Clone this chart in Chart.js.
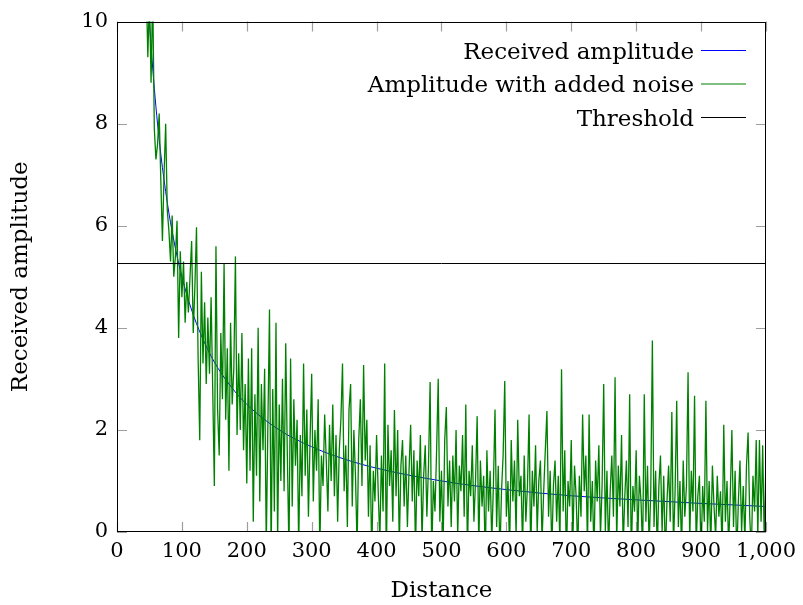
<!DOCTYPE html>
<html>
<head>
<meta charset="utf-8">
<script src="https://cdn.jsdelivr.net/npm/chart.js@4"></script>
<style>
  html, body { margin: 0; padding: 0; background: #fff; }
  #wrap { width: 803px; height: 605px; }
</style>
</head>
<body>
<div id="wrap"><canvas id="chart" width="803" height="605"></canvas></div>
<script>
// ─── DATA ─────────────────────────────────────────────────────────────────────

const xTicks = [0, 100, 200, 300, 400, 500, 600, 700, 800, 900, 1000];
const yTicks = [0, 2, 4, 6, 8, 10];

// received amplitude (smooth curve)
const ampDist = [45, 50, 55, 60, 65, 70, 80, 90, 100, 115, 130, 150, 175, 200, 250, 300, 350, 400, 500, 600, 700, 800, 900, 1000];
const ampValues = [11.1, 10, 9.09, 8.33, 7.69, 7.14, 6.25, 5.56, 5.0, 4.35, 3.85, 3.33, 2.86, 2.5, 2.0, 1.67, 1.43, 1.25, 1.0, 0.83, 0.71, 0.63, 0.56, 0.5];

// amplitude with added noise, sampled every 2.5 from distance 45
const noiseStart = 45;
const noiseStep = 2.5;
const noiseValues = [
  10.8, 9.3, 10.5, 8.8, 10.6, 7.9, 7.3, 7.6, 8.2, 6.9, 5.7, 7.0, 8.0, 6.3, 5.9, 5.3, 6.2, 5.0, 5.4, 6.1, 3.8,
  5.5, 4.6, 5.3, 4.1, 4.9, 4.3, 5.0, 5.7, 3.9, 4.8, 5.97, 3.4, 1.8, 5.1, 3.3, 4.5, 2.9, 4.2, 3.1, 4.6, 2.8,
  0.9, 5.6, 2.4, 1.5, 3.9, 2.6, 5.26, 2.2, 3.6, 1.2, 4.1, 2.5, 3.2, 5.4, 1.9, 3.5, 2.0, 3.9, 1.6, 2.9, 0.95,
  3.4, 1.2, 3.6, 0.2, 2.7, 1.1, 4.0, 0.6, 2.9, 1.6, 3.2, -0.3, 2.1, 4.36, -0.5, 2.8, 0.4, 4.1, -0.2, 2.5, 1.0,
  3.0, 0.8, 3.7, 1.5, -0.4, 3.4, 0.5, 2.6, 1.3, 2.2, -0.3, 1.9, 0.7, 3.3, 1.1, 2.4, 0.3, 1.8, 3.1, 0.6, 2.0,
  1.2, 2.6, -0.4, 1.5, 0.9, 2.3, 1.4, 0.4, 2.1, 1.0, 2.5, 0.7, 1.9, 0.2, 1.6, 2.2, 3.3, 0.8, 1.7, 0.1, 2.4,
  2.9, 0.5, 2.0, 1.1, -0.3, 1.8, 2.6, 0.9, 3.27, 1.4, 2.2, 0.3, 1.7, -0.5, 1.2, 0.6, 1.9, 0.8, -0.2, 1.5, 0.4,
  3.3, -0.6, 2.1, 0.9, 1.6, 0.2, 2.39, 0.7, 2.0, -0.3, 1.3, 1.8, 0.5, 1.5, 0.1, 1.2, 2.1, 0.6, 1.6, -0.4, 1.4,
  0.7, 1.9, -0.2, 1.1, 1.7, 0.3, 1.3, 2.94, -0.5, 1.0, 0.4, 1.6, 3.0, 0.2, 1.2, -0.3, 1.8, 2.45, 0.5, 1.4, 0.1,
  1.5, 0.6, 2.0, -0.1, 1.3, 0.8, 1.9, 0.3, 2.5, -0.4, 1.2, 0.7, 1.7, 0.2, 1.0, 2.27, -0.3, 1.4, 0.5, 1.1, -0.6,
  1.6, 0.4, 1.2, -0.2, 0.9, 2.4, 0.1, 1.3, -0.5, 0.8, 1.5, 2.96, 0.3, 1.0, -0.4, 1.8, 0.6, 1.4, -0.1, 2.2, 0.7,
  1.1, -0.3, 1.5, 0.2, 0.9, 2.3, -0.5, 1.2, 0.5, 1.7, 0.0, 1.0, 1.4, -0.2, 0.8, 1.6, 2.37, 0.3, 1.2, -0.4, 0.9,
  1.4, 0.2, 1.1, -0.3, 3.19, 0.4, 1.6, -0.6, 1.0, 0.5, 1.8, -0.2, 1.3, 0.7, -0.4, 1.1, 0.3, 2.3, 0.8, 1.5, -0.3,
  2.3, 0.2, 1.0, -0.5, 1.4, 0.6, 1.7, -0.1, 0.9, 2.9, 0.0, 1.2, -0.4, 0.8, 1.5, 0.3, 3.03, -0.2, 1.3, 0.5, 1.9,
  -0.3, 0.7, 1.4, 0.1, 2.7, -0.5, 0.9, 0.4, 1.6, -0.2, 1.1, 0.6, -0.4, 2.7, 0.2, 1.3, -0.3, 0.8, 3.75, 0.1, 1.2,
  -0.4, 0.9, 1.5, 0.0, 1.1, -0.5, 0.6, 1.3, 0.2, 2.35, -0.3, 0.8, 2.57, 0.1, 1.0, -0.4, 1.4, 0.3, 0.9, 3.13, -0.2,
  1.2, 0.4, 2.67, -0.3, 0.7, 1.1, -0.5, 0.9, 0.2, 2.57, 0.0, 1.0, -0.3, 1.3, 0.5, -0.1, 1.1, 0.3, 0.8, -0.4, 2.1,
  0.2, 1.0, -0.3, 0.7, 2.0, 0.1, 1.2, -0.5, 0.6, 1.4, 0.0, 0.9, -0.2, 1.3, 1.95, 0.3, -0.4, 1.1, 0.4, 1.8, -0.1,
  1.8, 0.2, 1.7, -0.3, 1.5
];

const thresholdDist = [0, 1000];
const thresholdValues = [5.26, 5.26];

// ─── CHART ────────────────────────────────────────────────────────────────────

const FONT = "'DejaVu Serif', serif";
Chart.defaults.font.family = FONT;
Chart.defaults.font.size = 21;
Chart.defaults.color = '#000';

const toPoints = (xs, ys) => ys.map((y, i) => ({ x: xs[i], y }));
const noisePoints = noiseValues.map((y, i) => ({ x: noiseStart + i * noiseStep, y }));

// pgfplots-like frame: box + inward ticks on every side
const framePlugin = {
  id: 'frame',
  afterDatasetsDraw(chart) {
    const { ctx, chartArea: { top, bottom, left, right }, scales: { x, y } } = chart;
    const len = 10;
    ctx.save();
    ctx.strokeStyle = 'rgba(0,0,0,0.38)';
    ctx.lineWidth = 1.2;
    ctx.beginPath();
    xTicks.forEach(v => {
      const px = Math.round(x.getPixelForValue(v)) + 0.5;
      ctx.moveTo(px, bottom); ctx.lineTo(px, bottom - len);
      ctx.moveTo(px, top); ctx.lineTo(px, top + len);
    });
    yTicks.forEach(v => {
      const py = Math.round(y.getPixelForValue(v)) + 0.5;
      ctx.moveTo(left, py); ctx.lineTo(left + len, py);
      ctx.moveTo(right, py); ctx.lineTo(right - len, py);
    });
    ctx.stroke();
    ctx.strokeStyle = '#000';
    ctx.lineWidth = 1;
    ctx.strokeRect(Math.round(left) + 0.5, Math.round(top) + 0.5, Math.round(right - left) - 1, Math.round(bottom - top) - 1);
    ctx.restore();
  },
};

// legend: text right-aligned, line sample on the right
const legendPlugin = {
  id: 'rightLegend',
  afterDraw(chart) {
    const { ctx } = chart;
    const textRight = 694, lineX0 = 701, lineX1 = 746, row0 = 50.5, rowGap = 33.5;
    ctx.save();
    ctx.font = '23px ' + FONT;
    ctx.textAlign = 'right';
    ctx.textBaseline = 'alphabetic';
    chart.data.datasets.forEach((ds, i) => {
      const yy = row0 + i * rowGap;
      ctx.fillStyle = '#000';
      ctx.fillText(ds.label, textRight, yy + 8);
      ctx.strokeStyle = ds.borderColor;
      ctx.lineWidth = 1.2;
      ctx.beginPath();
      ctx.moveTo(lineX0, yy); ctx.lineTo(lineX1, yy);
      ctx.stroke();
    });
    ctx.restore();
  },
};

new Chart(document.getElementById('chart'), {
  type: 'line',
  data: {
    datasets: [
      {
        label: 'Received amplitude',
        data: toPoints(ampDist, ampValues),
        borderColor: '#0000ff',
        borderWidth: 1,
        pointRadius: 0,
        cubicInterpolationMode: 'monotone',
        order: 3,
      },
      {
        label: 'Amplitude with added noise',
        data: noisePoints,
        borderColor: '#008000',
        borderWidth: 1.3,
        pointRadius: 0,
        tension: 0,
        order: 2,
      },
      {
        label: 'Threshold',
        data: toPoints(thresholdDist, thresholdValues),
        borderColor: '#000000',
        borderWidth: 1,
        pointRadius: 0,
        order: 1,
      },
    ],
  },
  options: {
    responsive: false,
    animation: false,
    layout: { padding: { top: 18, right: 35, left: 0, bottom: 0 } },
    plugins: { legend: { display: false }, tooltip: { enabled: false } },
    scales: {
      x: {
        type: 'linear',
        min: 0,
        max: 1000,
        afterBuildTicks: s => { s.ticks = xTicks.map(v => ({ value: v })); },
        afterFit: s => { s.height = 73; },
        ticks: { padding: 7, maxRotation: 0, autoSkip: false },
        grid: { display: false, drawTicks: false },
        border: { display: false },
        title: { display: true, text: 'Distance', font: { size: 23 }, padding: { top: 0, bottom: 0 } },
      },
      y: {
        type: 'linear',
        min: 0,
        max: 10,
        afterBuildTicks: s => { s.ticks = yTicks.map(v => ({ value: v })); },
        afterFit: s => { s.width = 117; },
        ticks: { padding: 9 },
        grid: { display: false, drawTicks: false },
        border: { display: false },
        title: { display: true, text: 'Received amplitude', font: { size: 23 }, padding: { top: 7, bottom: 0 } },
      },
    },
  },
  plugins: [framePlugin, legendPlugin],
});
</script>
</body>
</html>
